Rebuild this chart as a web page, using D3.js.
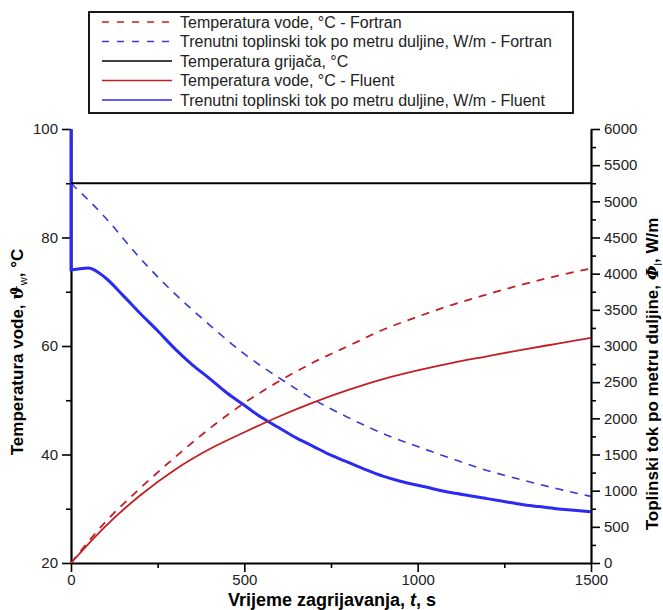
<!DOCTYPE html>
<html>
<head>
<meta charset="utf-8">
<script src="https://cdn.jsdelivr.net/npm/d3@7"></script>
<style>
  body { margin: 0; background: #fff; }
  svg { font-family: Arial, "Liberation Sans", sans-serif; }
</style>
</head>
<body>
<div id="chart"></div>
<script>
// time samples, s
var timeF = [0, 100, 200, 300, 400, 500, 600, 700, 800, 900, 1000, 1100, 1200, 1300, 1400, 1500]
// Fortran water temperature, °C
var tempFortran = [20, 27.6, 33.8, 39.5, 44.8, 49.5, 53.5, 57.0, 60.0, 63.0, 65.4, 67.6, 69.5, 71.3, 72.9, 74.3]
// Fortran heat flux per metre, W/m
var fluxFortran = [5250, 4770, 4210, 3720, 3290, 2890, 2560, 2260, 2010, 1790, 1610, 1440, 1280, 1150, 1030, 920]
// Fluent water temperature, °C
var tempFluent = [20, 26.8, 32.5, 37.2, 41.0, 44.1, 47.0, 49.6, 51.9, 53.9, 55.5, 56.9, 58.1, 59.3, 60.4, 61.5]
// Fluent heat flux (finer time grid)
var timeQ = [0, 0, 50, 100, 150, 200, 250, 300, 350, 400, 450, 500, 550, 600, 650, 700, 750, 800, 850, 900, 950, 1000, 1050, 1100, 1150, 1200, 1250, 1300, 1350, 1400, 1450, 1500]
var fluxFluent = [6000, 4055, 4080, 3940, 3700, 3450, 3210, 2960, 2740, 2550, 2350, 2180, 2010, 1870, 1730, 1610, 1490, 1390, 1290, 1200, 1130, 1075, 1020, 970, 930, 890, 850, 810, 780, 750, 730, 710]
// heater temperature
var timeH = [0, 1500]
var tempHeater = [90, 90]

var legendLabels = [
  "Temperatura vode, °C - Fortran",
  "Trenutni toplinski tok po metru duljine, W/m - Fortran",
  "Temperatura grijača, °C",
  "Temperatura vode, °C - Fluent",
  "Trenutni toplinski tok po metru duljine, W/m - Fluent"
]
var xTicks = [0, 500, 1000, 1500]
var yTicksL = [20, 40, 60, 80, 100]
var yTicksR = [0, 500, 1000, 1500, 2000, 2500, 3000, 3500, 4000, 4500, 5000, 5500, 6000]

var red = "#c21f24", blueDash = "#3838d6", blueSolid = "#2a2af2"

var svg = d3.select("#chart").append("svg").attr("width", 663).attr("height", 610)

var xs = d3.scaleLinear().domain([0, 1500]).range([71, 591])
var yl = d3.scaleLinear().domain([20, 100]).range([563, 129])
var yr = d3.scaleLinear().domain([0, 6000]).range([563, 129])

// minor ticks first
svg.append("g").attr("transform", "translate(71,0)")
  .call(d3.axisLeft(yl).tickValues([30, 50, 70, 90]).tickSize(5).tickFormat("").tickSizeOuter(0))
  .call(g => g.select(".domain").remove())
svg.append("g").attr("transform", "translate(591,0)")
  .call(d3.axisRight(yr).tickValues(d3.range(250, 6000, 500)).tickSize(5).tickFormat("").tickSizeOuter(0))
  .call(g => g.select(".domain").remove())
svg.append("g").attr("transform", "translate(0,563)")
  .call(d3.axisBottom(xs).tickValues([250, 750, 1250]).tickSize(5).tickFormat("").tickSizeOuter(0))
  .call(g => g.select(".domain").remove())
svg.selectAll(".tick text").remove()

// main axes
var f = d3.format("d")
svg.append("g").attr("transform", "translate(71,0)")
  .call(d3.axisLeft(yl).tickValues(yTicksL).tickFormat(f).tickSize(9).tickSizeOuter(0).tickPadding(4))
svg.append("g").attr("transform", "translate(591,0)")
  .call(d3.axisRight(yr).tickValues(yTicksR).tickFormat(f).tickSize(9).tickSizeOuter(0).tickPadding(4))
svg.append("g").attr("transform", "translate(0,563)")
  .call(d3.axisBottom(xs).tickValues(xTicks).tickFormat(f).tickSize(9).tickSizeOuter(0).tickPadding(2))

svg.selectAll(".domain").attr("stroke-width", 2.2)
svg.selectAll(".tick line").attr("stroke-width", 1.6)
svg.selectAll(".tick text").style("font-size", "15px").attr("fill", "#222")
  .attr("font-family", "Arial, 'Liberation Sans', sans-serif")

// lines
var lineL = d3.line().x(d => xs(d[0])).y(d => yl(d[1])).curve(d3.curveMonotoneX)
var lineR = d3.line().x(d => xs(d[0])).y(d => yr(d[1])).curve(d3.curveMonotoneX)

var plot = svg.append("g")

plot.append("path").datum(d3.zip(timeQ, fluxFluent)).attr("d", lineR)
  .attr("fill", "none").attr("stroke", blueSolid).attr("stroke-width", 3)
plot.append("path").datum(d3.zip(timeF, fluxFortran)).attr("d", lineR)
  .attr("fill", "none").attr("stroke", blueDash).attr("stroke-width", 1.6).attr("stroke-dasharray", "8,7")
plot.append("path").datum(d3.zip(timeF, tempFluent)).attr("d", lineL)
  .attr("fill", "none").attr("stroke", red).attr("stroke-width", 1.8)
plot.append("path").datum(d3.zip(timeF, tempFortran)).attr("d", lineL)
  .attr("fill", "none").attr("stroke", red).attr("stroke-width", 1.8).attr("stroke-dasharray", "8,7")
plot.append("path").datum(d3.zip(timeH, tempHeater)).attr("d", lineL)
  .attr("fill", "none").attr("stroke", "#000").attr("stroke-width", 1.8)

// axis titles
svg.append("text").attr("x", 332).attr("y", 606).attr("text-anchor", "middle")
  .style("font-size", "18px").style("font-weight", "bold")
  .html('Vrijeme zagrijavanja, <tspan font-style="italic">t</tspan>, s')

svg.append("text").attr("transform", "translate(23,352) rotate(-90)").attr("text-anchor", "middle")
  .style("font-size", "17px").style("font-weight", "bold")
  .html('Temperatura vode,  <tspan font-style="italic" font-family="DejaVu Serif">ϑ</tspan><tspan font-size="11px" font-weight="normal" dy="4">w</tspan><tspan dy="-4">, °C</tspan>')

svg.append("text").attr("transform", "translate(658,374) rotate(-90)").attr("text-anchor", "middle")
  .style("font-size", "17px").style("font-weight", "bold")
  .html('Toplinski tok po metru duljine, <tspan font-style="italic" font-family="DejaVu Serif">Φ</tspan><tspan font-size="11px" font-weight="normal" dy="4">l</tspan><tspan dy="-4">, W/m</tspan>')

// legend
var leg = svg.append("g")
leg.append("rect").attr("x", 89).attr("y", 12).attr("width", 484).attr("height", 101)
  .attr("fill", "#fff").attr("stroke", "#000").attr("stroke-width", 1.8)
var legStyles = [
  { c: red, dash: "7,8" }, { c: blueDash, dash: "7,8" }, { c: "#000", dash: null },
  { c: red, dash: null }, { c: blueSolid, dash: null }
]
legendLabels.forEach(function (lab, i) {
  var y = 22 + i * 19.5
  leg.append("line").attr("x1", 102).attr("x2", 172).attr("y1", y).attr("y2", y)
    .attr("stroke", legStyles[i].c).attr("stroke-width", 1.6)
    .attr("stroke-dasharray", legStyles[i].dash)
  leg.append("text").attr("x", 180).attr("y", y + 5.5).style("font-size", "16px").attr("fill", "#222").text(lab)
})
</script>
</body>
</html>
